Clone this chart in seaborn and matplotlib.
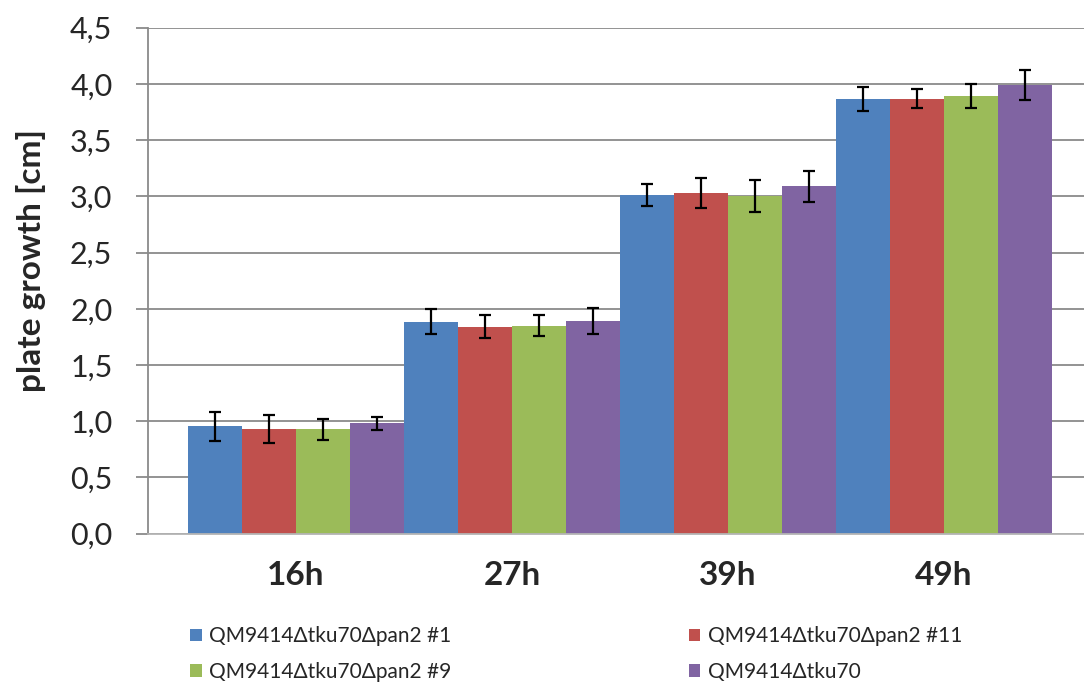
import matplotlib
matplotlib.use("Agg")
import matplotlib.pyplot as plt
import seaborn as sns
import pandas as pd
import numpy as np

# data
times = ["16h", "27h", "39h", "49h"]
strains = ["QM9414\u0394tku70\u0394pan2 #1", "QM9414\u0394tku70\u0394pan2 #11",
           "QM9414\u0394tku70\u0394pan2 #9", "QM9414\u0394tku70"]
growth_1 = [0.955, 1.886, 3.01, 3.865]
growth_11 = [0.928, 1.841, 3.03, 3.87]
growth_9 = [0.928, 1.85, 3.003, 3.89]
growth_tku70 = [0.981, 1.894, 3.09, 3.99]
err_1 = [0.13, 0.11, 0.10, 0.11]
err_11 = [0.125, 0.10, 0.13, 0.085]
err_9 = [0.095, 0.095, 0.14, 0.105]
err_tku70 = [0.06, 0.115, 0.14, 0.13]
colors = ["#4F81BD", "#C0504D", "#9BBB59", "#8064A2"]

series = [growth_1, growth_11, growth_9, growth_tku70]
errors = [err_1, err_11, err_9, err_tku70]

rows = []
for s, vals in zip(strains, series):
    for t, v in zip(times, vals):
        rows.append({"time": t, "strain": s, "growth": v})
df = pd.DataFrame(rows)

sns.set_style("white")
plt.rcParams['font.family'] = ['Lato', 'DejaVu Sans']

fig = plt.figure(figsize=(10.84, 6.87), dpi=100)
ax = fig.add_axes([148 / 1084, 153.3 / 687, (1084 - 148) / 1084, 506 / 687])

sns.barplot(data=df, x="time", y="growth", hue="strain", order=times,
            hue_order=strains, palette=colors, width=1.0, gap=0,
            errorbar=None, saturation=1, linewidth=0, ax=ax, zorder=2)

# error bars on top of the bars
for cont, err in zip(ax.containers, errors):
    xs = [p.get_x() + p.get_width() / 2 for p in cont]
    hs = [p.get_height() for p in cont]
    ax.errorbar(xs, hs, yerr=err, fmt="none", ecolor="black",
                elinewidth=1.6, capsize=4.5, capthick=1.6, zorder=3)

ax.set_xlim(-0.685, 3.648)
ax.set_ylim(0, 4.5)
ax.set_yticks(np.arange(0, 4.51, 0.5))
ax.set_yticklabels([f"{v:.1f}".replace(".", ",") for v in np.arange(0, 4.51, 0.5)])
ax.yaxis.grid(True, color="#8a8a8a", linewidth=1.3, zorder=0)
ax.set_axisbelow(True)
ax.tick_params(axis="y", length=8.6, width=1.3, color="#8a8a8a", pad=17,
               labelsize=22, left=True)
ax.tick_params(axis="x", length=0, pad=20, labelsize=24)
for lab in ax.get_xticklabels():
    lab.set_fontweight("bold")
for side in ["top", "right"]:
    ax.spines[side].set_visible(False)
ax.spines["left"].set_color("#8a8a8a")
ax.spines["left"].set_linewidth(1.3)
ax.spines["bottom"].set_color("#b4b4b4")
ax.spines["bottom"].set_linewidth(1.3)

ax.set_xlabel("")
ax.set_ylabel("plate growth [cm]", fontsize=24, fontweight="bold")
ax.yaxis.set_label_coords(-0.109, 0.54)

handles, labels = ax.get_legend_handles_labels()
ax.get_legend().remove()
order = [0, 2, 1, 3]
fig.legend([handles[i] for i in order], [labels[i] for i in order],
           ncol=2, loc="upper left", bbox_to_anchor=(182 / 1084, 1 - 618 / 687),
           frameon=False, fontsize=15, handlelength=0.55, handleheight=0.55,
           handletextpad=0.35, columnspacing=11.4, labelspacing=0.75,
           borderaxespad=0)

fig.savefig("out.png", dpi=100)
